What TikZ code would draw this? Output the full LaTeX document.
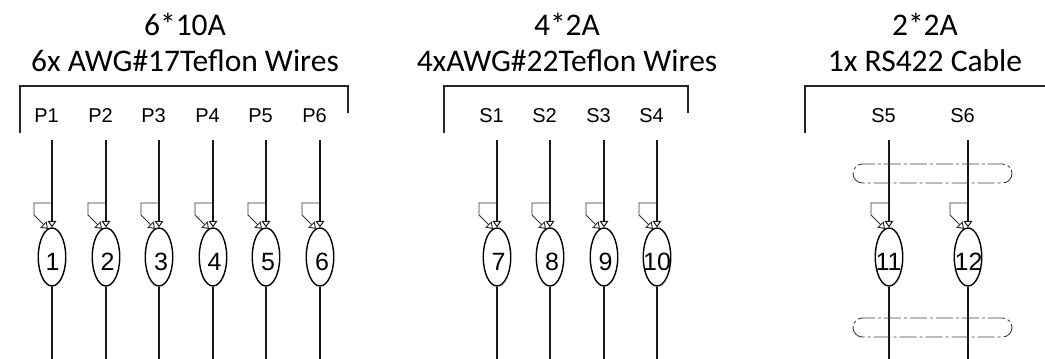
\documentclass[tikz,border=0pt]{standalone}
\usepackage{fontspec}
\setmainfont{Liberation Sans}
\newfontfamily\titlefont{Carlito}
\usetikzlibrary{arrows.meta,shapes.geometric}
\tikzset{
  wire/.style={line width=1.6pt,black!90},
  branch/.style={line width=0.9pt,black!80},
  bracketline/.style={line width=1.5pt,black!85,line cap=butt},
  head/.style={-{Triangle[open,length=6.5pt,width=9pt,line width=1pt]}},
  contact/.style={draw,ellipse,line width=1.4pt,minimum width=27.5pt,minimum height=58pt,inner sep=0pt},
  contactnum/.style={inner sep=0pt,font=\fontsize{25}{25}\selectfont},
  pinlabel/.style={font=\fontsize{20}{20}\selectfont},
  titletext/.style={font=\titlefont\fontsize{31.5}{36}\selectfont,align=center},
  shield/.style={line width=0.9pt,black!75,rounded corners=9.5pt,dash pattern=on 17pt off 3pt on 3pt off 3pt}
}
\begin{document}
\begin{tikzpicture}[x=1pt,y=-1pt]
\useasboundingbox (0,0) rectangle (1045,359);
\node[titletext] (t1) at (185,42) {6*10A\\6x AWG\#17Teflon Wires};
\node[titletext] (t2) at (567,42) {4*2A\\4xAWG\#22Teflon Wires};
\node[titletext] (t3) at (925,42) {2*2A\\1x RS422 Cable};
\draw[bracketline] (20,133) -- (20,86) -- (348,86) -- (348,113);
\draw[bracketline] (444,133) -- (444,86) -- (688,86) -- (688,113);
\draw[bracketline] (805,133) -- (805,86) -- (1045,86);
\foreach \name/\lab/\num/\x/\dx in {a/P1/1/52/0.5,b/P2/2/106/1.5,c/P3/3/159/2,d/P4/4/213/1.5,e/P5/5/266/2,f/P6/6/320/2,g/S1/7/497/1.5,h/S2/8/550/2,i/S3/9/604/1.5,j/S4/10/657/0,k/S5/11/889/-0.5,l/S6/12/968/0.5}{
  \node[pinlabel] (lab\name) at (\x-5.5,115.5) {\lab};
  \coordinate (top\name) at (\x,140);
  \coordinate (bot\name) at (\x,359);
  \node[contact] (con\name) at (\x,257) {};
  \node[contactnum] (num\name) at (\x+\dx,262) {\num};
  \draw[wire,head] (top\name) -- (con\name.north);
  \draw[wire] (con\name.south) -- (bot\name);
  \coordinate (ba\name) at (\x,203);
  \coordinate (bb\name) at (\x-18,203);
  \coordinate (bc\name) at (\x-18,215);
  \coordinate (bd\name) at (\x-4,229);
  \draw[branch,head] (ba\name) -- (bb\name) -- (bc\name) -- (bd\name);
}
\draw[shield] (853,164) rectangle (1012,183);
\draw[shield] (853,318) rectangle (1012,337);
\end{tikzpicture}
\end{document}
